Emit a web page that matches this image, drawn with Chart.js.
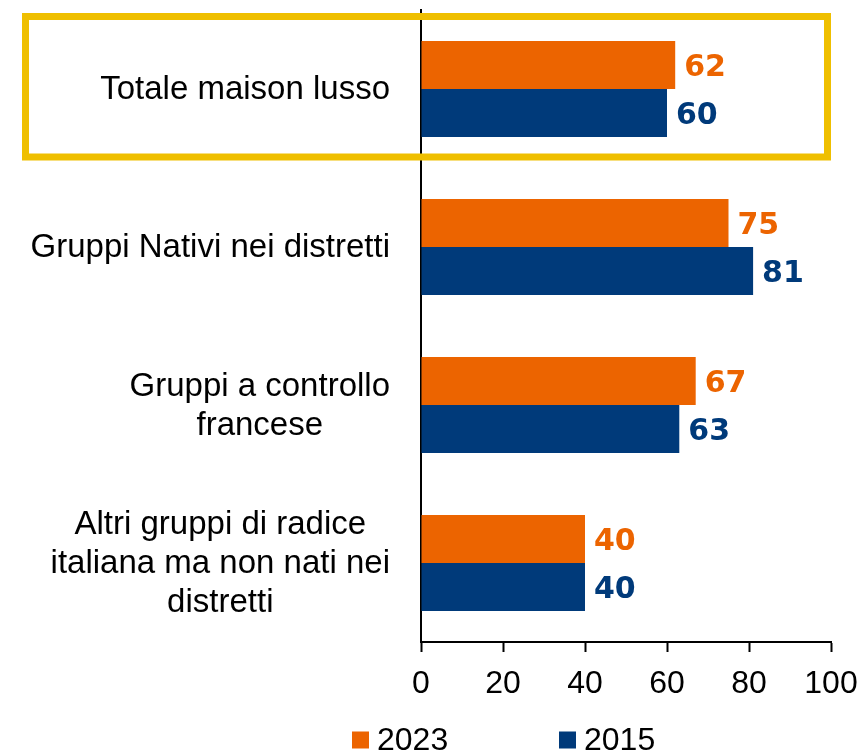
<!DOCTYPE html>
<html>
<head>
<meta charset="utf-8">
<script src="https://cdn.jsdelivr.net/npm/chart.js@4/dist/chart.umd.min.js"></script>
<style>
  html, body { margin: 0; padding: 0; background: #ffffff; }
  #wrap { width: 863px; height: 752px; position: relative; }
</style>
</head>
<body>
<div id="wrap"><canvas id="c" width="863" height="752"></canvas></div>
<script>
// ---- data ----
const categories = [
  ["Totale maison lusso"],
  ["Gruppi Nativi nei distretti"],
  ["Gruppi a controllo", "francese"],
  ["Altri gruppi di radice", "italiana ma non nati nei", "distretti"]
];
const seriesNames = ["2023", "2015"];
const values2023 = [62, 75, 67, 40];
const values2015 = [60, 81, 63, 40];
const xTickMin = 0;
const xTickMax = 100;
const xTickStep = 20;
const highlightedCategory = 0;

// ---- styles ----
const ORANGE = "#EC6400";
const BLUE = "#003A7A";
const GOLD = "#EFBF00";
const FONT = "'Liberation Sans', Arial, sans-serif";
const BOLDFONT = "'DejaVu Sans', sans-serif";

const catLabelPlugin = {
  id: "catLabels",
  afterDraw(chart) {
    const ctx = chart.ctx;
    const y = chart.scales.y;
    ctx.save();
    ctx.font = "33px " + FONT;
    ctx.fillStyle = "#000";
    ctx.textAlign = "center";
    ctx.textBaseline = "middle";
    const lh = 39;
    const right = y.right - 31;
    chart.data.labels.forEach((lab, i) => {
      const lines = Array.isArray(lab) ? lab : [lab];
      let w = 0;
      lines.forEach(l => { w = Math.max(w, ctx.measureText(l).width); });
      const cx = right - w / 2;
      const cy = y.getPixelForTick(i);
      lines.forEach((l, j) => {
        ctx.fillText(l, cx, cy + 1 + (j - (lines.length - 1) / 2) * lh);
      });
    });
    ctx.restore();
  }
};

const valueLabelPlugin = {
  id: "valueLabels",
  afterDatasetsDraw(chart) {
    const ctx = chart.ctx;
    ctx.save();
    ctx.font = "bold 30px " + BOLDFONT;
    ctx.textAlign = "left";
    ctx.textBaseline = "middle";
    chart.data.datasets.forEach((ds, di) => {
      const meta = chart.getDatasetMeta(di);
      ctx.fillStyle = ds.backgroundColor;
      meta.data.forEach((bar, i) => {
        ctx.fillText(String(ds.data[i]), bar.x + 9, bar.y + 3);
      });
    });
    ctx.restore();
  }
};

const boxPlugin = {
  id: "highlightBox",
  afterDraw(chart) {
    const ctx = chart.ctx;
    const y = chart.scales.y;
    const x = chart.scales.x;
    const cy = y.getPixelForTick(highlightedCategory);
    ctx.save();
    ctx.strokeStyle = GOLD;
    ctx.lineWidth = 7;
    ctx.strokeRect(25.5, cy - 72.5, x.getPixelForValue(xTickMax) - 3.5 - 25.5, 140.5);
    ctx.restore();
  }
};

const legendPlugin = {
  id: "customLegend",
  afterDraw(chart) {
    const ctx = chart.ctx;
    ctx.save();
    ctx.font = "32px " + FONT;
    ctx.textAlign = "left";
    ctx.textBaseline = "middle";
    const startX = 352, step = 207, cy = 740;
    chart.data.datasets.forEach((ds, i) => {
      const bx = startX + i * step;
      ctx.fillStyle = ds.backgroundColor;
      ctx.fillRect(bx, cy - 8.5, 17, 17);
      ctx.fillStyle = "#000";
      ctx.fillText(ds.label, bx + 25, cy + 1);
    });
    ctx.restore();
  }
};

new Chart(document.getElementById("c"), {
  type: "bar",
  data: {
    labels: categories,
    datasets: [
      { label: seriesNames[0], data: values2023, backgroundColor: ORANGE, borderWidth: 0 },
      { label: seriesNames[1], data: values2015, backgroundColor: BLUE, borderWidth: 0 }
    ]
  },
  options: {
    indexAxis: "y",
    responsive: false,
    animation: false,
    devicePixelRatio: 1,
    layout: { padding: { left: 0, right: 32, top: 10, bottom: 40 } },
    datasets: { bar: { categoryPercentage: 0.608, barPercentage: 1.0 } },
    plugins: {
      legend: { display: false },
      tooltip: { enabled: false },
      title: { display: false }
    },
    scales: {
      x: {
        type: "linear",
        min: xTickMin,
        max: xTickMax,
        ticks: { stepSize: xTickStep, color: "#000", font: { family: FONT, size: 32 }, padding: 13, maxRotation: 0 },
        grid: { drawOnChartArea: false, drawTicks: true, tickLength: 10, color: "#000", tickWidth: 2 },
        border: { display: true, color: "#000", width: 2 },
        afterFit(scale) { scale.height = 70; scale.paddingRight = 0; scale.paddingLeft = 0; }
      },
      y: {
        type: "category",
        ticks: { display: false },
        grid: { display: false, drawTicks: false },
        border: { display: true, color: "#000", width: 2 },
        afterFit(scale) { scale.width = 421; }
      }
    }
  },
  plugins: [catLabelPlugin, valueLabelPlugin, boxPlugin, legendPlugin]
});
</script>
</body>
</html>
